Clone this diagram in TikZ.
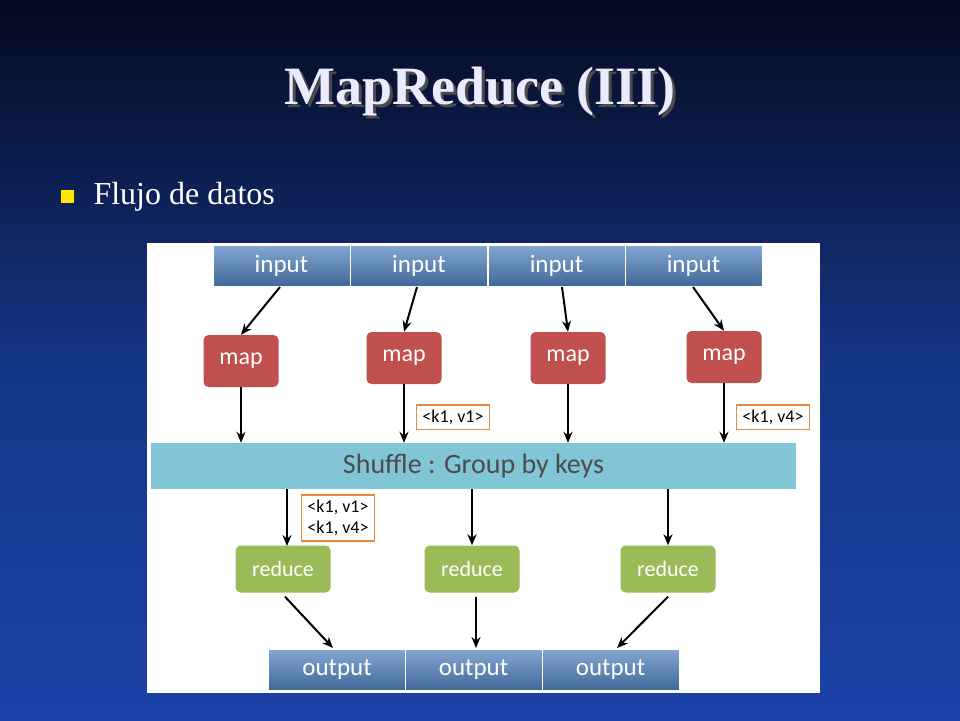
\documentclass[tikz,border=0pt]{standalone}
\usepackage{fontspec}
\setmainfont{Liberation Serif}
\newfontfamily\calfont{Carlito}
\usetikzlibrary{arrows.meta}
\definecolor{inblue}{HTML}{4F81BD}
\definecolor{mapred}{HTML}{C0504D}
\definecolor{redgreen}{HTML}{9BBB59}
\definecolor{shuf}{HTML}{4BACC6}
\definecolor{lab}{HTML}{E46C0A}
\definecolor{bgtop}{HTML}{050A20}
\definecolor{bgmid}{HTML}{153585}
\definecolor{bgbot}{HTML}{1C42A8}
\tikzset{
 io/.style={draw=white,line width=1pt,minimum width=137pt,minimum height=41pt,inner sep=0pt,top color=inblue!70!white,bottom color=inblue!80!black,text=white,font=\calfont\fontsize{25}{25}\selectfont},
 mapbox/.style={rounded corners=5pt,fill=mapred,minimum width=75pt,minimum height=52pt,text=white,font=\calfont\fontsize{24}{24}\selectfont},
 redbox/.style={rounded corners=5pt,fill=redgreen,minimum width=95pt,minimum height=47pt,text=white,font=\calfont\fontsize{22}{22}\selectfont},
 kv/.style={draw=lab!80!white,line width=1.8pt,fill=white,inner xsep=6pt,inner ysep=5pt,align=center,font=\calfont\fontsize{18}{21}\selectfont},
 arr/.style={-{Stealth[length=11pt,width=9pt]},line width=2pt,black}
}
\begin{document}
\begin{tikzpicture}[x=1pt,y=-1pt]
\useasboundingbox (0,0) rectangle (960,720);
\shade[top color=bgtop,bottom color=bgbot,middle color=bgmid] (0,0) rectangle (960,720);
\fill[white] (147,243) rectangle (820,693);
\node[text=black!70,font=\bfseries\fontsize{54}{54}\selectfont] (tsh) at (483,95) {MapReduce (III)};
\node[text=blue!8!white,font=\bfseries\fontsize{54}{54}\selectfont] (title) at (480,92) {MapReduce (III)};
\fill[yellow!90!orange] (61,190) rectangle (74,203);
\node[anchor=west,text=white,font=\fontsize{32}{32}\selectfont] (bul) at (90,197) {Flujo de datos};
\foreach \i/\x in {1/281.5,2/419,3/556.5,4/693.5} \node[io] (in\i) at (\x,266) {input};
\foreach \i/\x in {1/337,2/473.5,3/610.5} \node[io] (out\i) at (\x,670) {output};
\node[mapbox] (m1) at (241,361) {map};
\node[mapbox] (m2) at (404,358) {map};
\node[mapbox] (m3) at (568,358) {map};
\node[mapbox] (m4) at (724,357) {map};
\node[fill=shuf!70!white,minimum width=645pt,minimum height=46pt,text=black!70,font=\calfont\fontsize{28}{28}\selectfont] (sh) at (473.5,466) {Shuffle : Group by keys};
\node[kv] (k1) at (453,417) {<k1, v1>};
\node[kv] (k4) at (773,417) {<k1, v4>};
\node[kv] (k14) at (338,518) {<k1, v1>\\<k1, v4>};
\node[redbox] (r1) at (283,569) {reduce};
\node[redbox] (r2) at (472,569) {reduce};
\node[redbox] (r3) at (668,569) {reduce};
\draw[arr] (280,287) -- (m1.north);
\draw[arr] (417,287) -- (m2.north);
\draw[arr] (562,287) -- (m3.north);
\draw[arr] (693,287) -- (m4.north);
\draw[arr] (m1.south) -- (m1.south |- sh.north);
\draw[arr] (m2.south) -- (m2.south |- sh.north);
\draw[arr] (m3.south) -- (m3.south |- sh.north);
\draw[arr] (m4.south) -- (m4.south |- sh.north);
\draw[arr] (287,489) -- (287,546);
\draw[arr] (r2.north |- sh.south) -- (r2.north);
\draw[arr] (r3.north |- sh.south) -- (r3.north);
\draw[arr] (r1.south) ++(2,4) -- (333,648);
\draw[arr] (r2.south) ++(4,4) -- (476,648);
\draw[arr] (r3.south) ++(0,4) -- (617,648);
\end{tikzpicture}
\end{document}
